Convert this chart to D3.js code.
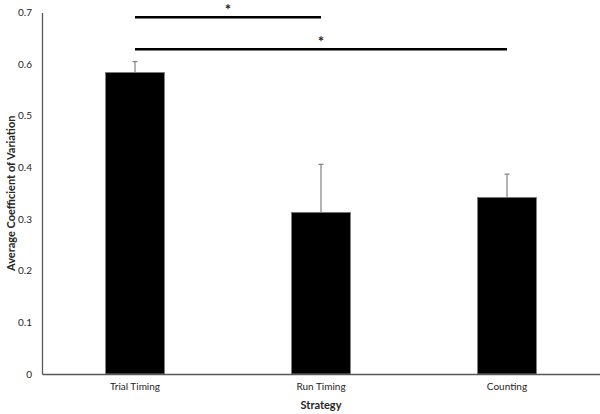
<!DOCTYPE html>
<html><head><meta charset="utf-8">
<script src="https://cdn.jsdelivr.net/npm/d3@7"></script>
<style>body{margin:0;background:#fff}svg{display:block}text{font-family:Lato,"Open Sans",sans-serif}</style>
</head><body><svg id="c" width="600" height="414"></svg>
<script>
const categories = ["Trial Timing", "Run Timing", "Counting"];
const means = [0.584, 0.313, 0.342];
const errors = [0.021, 0.093, 0.045];
const yTicks = [0, 0.1, 0.2, 0.3, 0.4, 0.5, 0.6, 0.7];
const sigFrom = ["Trial Timing", "Trial Timing"];
const sigTo = ["Run Timing", "Counting"];
const sigLevels = [0.691, 0.629];
const sigLabels = ["*", "*"];

const svg = d3.select("#c");
const m = {l: 42, r: 0, t: 12.5, b: 40};
const W = 600, H = 414;
const x = d3.scaleBand().domain(categories).range([m.l, W - m.r]).paddingInner(0.683).paddingOuter(0.3415);
const y = d3.scaleLinear().domain([0, 0.7]).range([374, m.t]);

// y axis
const ya = svg.append("g").attr("transform", `translate(${m.l},0)`)
  .call(d3.axisLeft(y).tickValues(yTicks).tickSize(0).tickPadding(10).tickFormat(d => d === 0 ? "0" : d3.format(".1f")(d)));
ya.select(".domain").attr("stroke", "#595959").attr("stroke-width", 1.3);
ya.selectAll("text").attr("font-size", 10).attr("fill", "#262626");

// bars
svg.selectAll("rect.bar").data(categories).join("rect").attr("class", "bar")
  .attr("x", d => x(d)).attr("width", x.bandwidth())
  .attr("y", (d, i) => y(means[i])).attr("height", (d, i) => y(0) - y(means[i]))
  .attr("fill", "#000").attr("stroke", "#7f7f7f").attr("stroke-width", 0.8);

// error bars (upper only)
const eb = svg.append("g").attr("stroke", "#808080").attr("stroke-width", 1.2);
categories.forEach((c, i) => {
  const cx = x(c) + x.bandwidth() / 2;
  eb.append("line").attr("x1", cx).attr("x2", cx).attr("y1", y(means[i])).attr("y2", y(means[i] + errors[i]));
  eb.append("line").attr("x1", cx - 2.5).attr("x2", cx + 2.5).attr("y1", y(means[i] + errors[i])).attr("y2", y(means[i] + errors[i]));
});

// x axis
const xa = svg.append("g").attr("transform", `translate(0,${y(0)})`)
  .call(d3.axisBottom(x).tickSize(0).tickPadding(9));
xa.select(".domain").attr("stroke", "#595959").attr("stroke-width", 1.3);
xa.selectAll("text").attr("font-size", 10).attr("fill", "#262626");

// significance brackets
sigLevels.forEach((lv, i) => {
  const x1 = x(sigFrom[i]) + x.bandwidth() / 2, x2 = x(sigTo[i]) + x.bandwidth() / 2;
  svg.append("line").attr("x1", x1).attr("x2", x2).attr("y1", y(lv)).attr("y2", y(lv))
    .attr("stroke", "#000").attr("stroke-width", 2.5);
  svg.append("text").attr("x", (x1 + x2) / 2).attr("y", y(lv) - 2).attr("text-anchor", "middle")
    .attr("font-size", 15).attr("font-weight", "bold").attr("fill", "#222").text(sigLabels[i]);
});

// axis titles
svg.append("text").attr("x", (m.l + W) / 2 + 0).attr("y", 409).attr("text-anchor", "middle")
  .attr("font-size", 11).attr("font-weight", "bold").attr("fill", "#262626").text("Strategy");
svg.append("text").attr("transform", `translate(11,${(y(0) + y(0.7)) / 2}) rotate(-90)`)
  .attr("text-anchor", "middle").attr("dy", "0.35em")
  .attr("font-size", 11).attr("font-weight", "bold").attr("fill", "#262626").text("Average Coefficient of Variation");
</script></body></html>
